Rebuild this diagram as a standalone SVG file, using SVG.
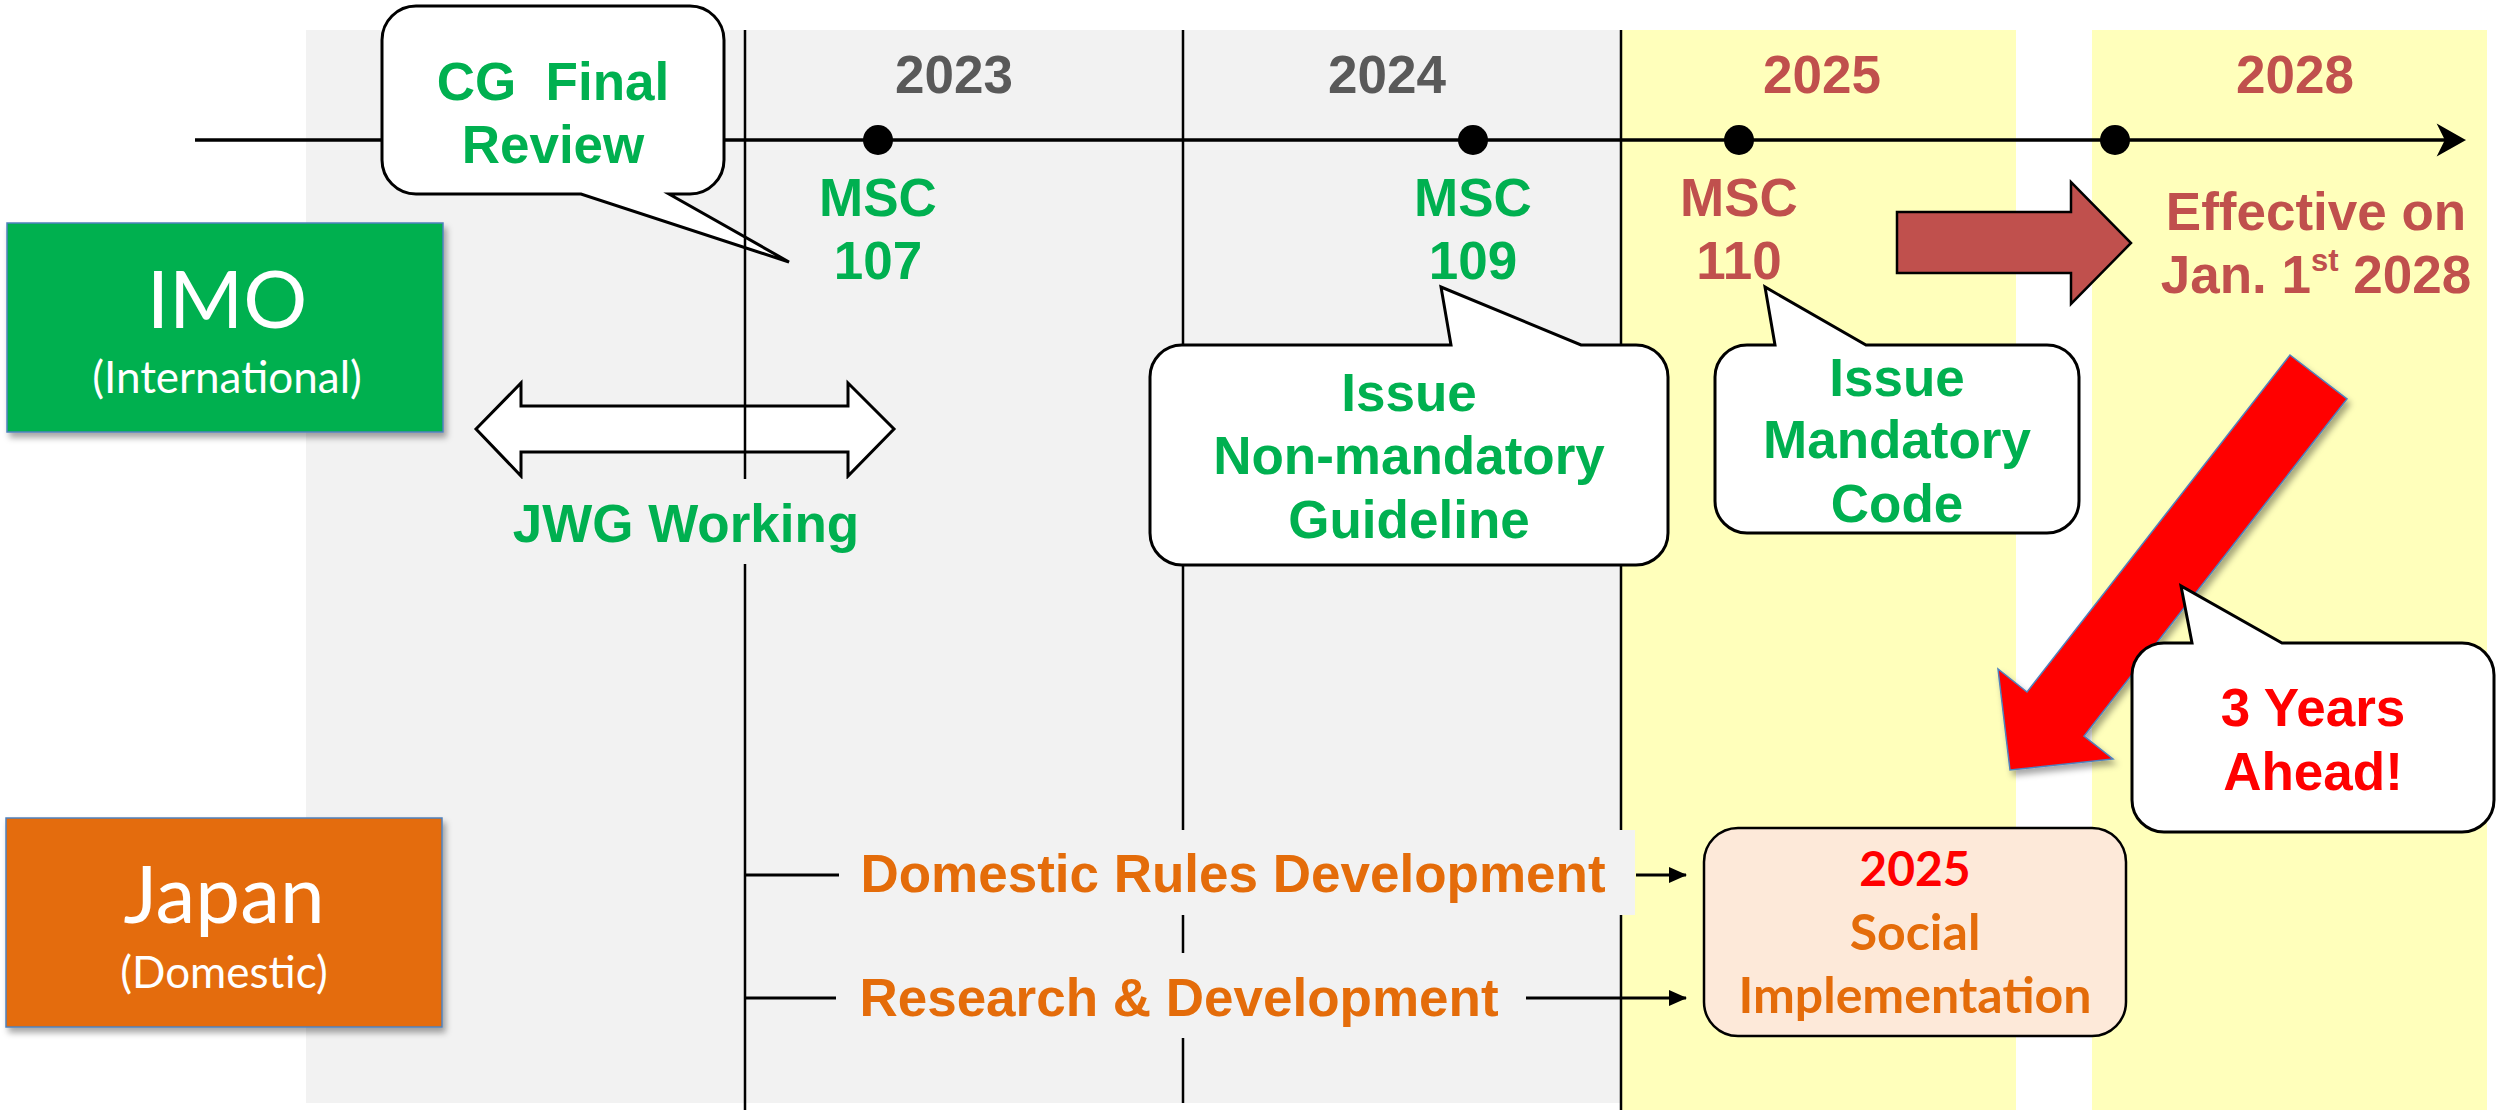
<svg xmlns="http://www.w3.org/2000/svg" width="2496" height="1110" viewBox="0 0 2496 1110">
<defs>
<style>
.b{font-family:"Liberation Sans",Arial,sans-serif;font-weight:bold;font-size:53px;text-anchor:middle}
.g{fill:#00B050}
.br{fill:#C0504D}
.gy{fill:#595959}
.or{fill:#E46C0A}
.rd{fill:#FF0000}
.cal{font-family:Lato,"Open Sans",sans-serif;text-anchor:middle;fill:#FFFFFF}
.vl{stroke:#000;stroke-width:2.5;fill:none}
.callout{fill:#FFFFFF;stroke:#000;stroke-width:3;stroke-linejoin:miter}
.bg{fill:#F2F2F2}
.yl{fill:#FFFFBB}
</style>
<filter id="sh" x="-10%" y="-10%" width="130%" height="130%">
<feDropShadow dx="3" dy="5" stdDeviation="3" flood-color="#000" flood-opacity="0.35"/>
</filter>
<marker id="ah2" markerWidth="18" markerHeight="16" refX="17" refY="8" orient="auto" markerUnits="userSpaceOnUse" viewBox="0 0 18 16">
<path d="M0,0 L18,8 L0,16 Z" fill="#000"/>
</marker>
</defs>

<g id="background">
<rect class="bg" x="306" y="30" width="1314" height="1073"/>
<rect class="yl" x="1620" y="30" width="396" height="1080"/>
<rect class="yl" x="2092" y="30" width="395" height="1080"/>
</g>

<g id="timeline">
<line x1="195" y1="140" x2="2450" y2="140" stroke="#000" stroke-width="3.5"/>
<path d="M2464,140 L2439,126 L2446,140 L2439,154 Z" fill="#000" stroke="#000" stroke-width="2"/>
<circle cx="878" cy="140" r="15" fill="#000"/>
<circle cx="1473" cy="140" r="15" fill="#000"/>
<circle cx="1739" cy="140" r="15" fill="#000"/>
<circle cx="2115" cy="140" r="15" fill="#000"/>
</g>

<g id="years">
<text class="b gy" x="954" y="93">2023</text>
<text class="b gy" x="1387" y="93">2024</text>
<text class="b br" x="1822" y="93">2025</text>
<text class="b br" x="2295" y="93">2028</text>
</g>

<g id="cg-review">
<path class="callout" d="M416,6 H690 A34,34 0 0 1 724,40 V160 A34,34 0 0 1 690,194 H669 L789,262 L581,194 H416 A34,34 0 0 1 382,160 V40 A34,34 0 0 1 416,6 Z"/>
<text class="b g" x="553" y="100" xml:space="preserve">CG  Final</text>
<text class="b g" x="553" y="163">Review</text>
</g>

<g id="jwg">
<polygon points="476,429 521,383 521,406 848,406 848,383 894,429 848,476 848,452 521,452 521,476" fill="#FFFFFF" stroke="#000" stroke-width="3"/>
<rect class="bg" x="500" y="479" width="370" height="85"/>
<text class="b g" x="686" y="542">JWG Working</text>
</g>

<g id="connectors">
<line class="vl" x1="745" y1="30" x2="745" y2="479"/>
<line class="vl" x1="745" y1="564" x2="745" y2="1110"/>
<line class="vl" x1="1183" y1="30" x2="1183" y2="1103"/>
<line class="vl" x1="1621" y1="30" x2="1621" y2="1110"/>
<line x1="745" y1="875" x2="839" y2="875" stroke="#000" stroke-width="3"/>
<line x1="745" y1="998" x2="836" y2="998" stroke="#000" stroke-width="3"/>
<line x1="1636" y1="875" x2="1686" y2="875" stroke="#000" stroke-width="3" marker-end="url(#ah2)"/>
<line x1="1526" y1="998" x2="1686" y2="998" stroke="#000" stroke-width="3" marker-end="url(#ah2)"/>
<path d="M1897,212 H2071 V182 L2131,243 L2071,304 V273 H1897 Z" fill="#C0504D" stroke="#000" stroke-width="2.5"/>
<path d="M2290,355 L2347,399 L2084,736 L2113,759 L2010,770 L1998,669 L2027,692 Z" fill="#FF0000" stroke="#4F81BD" stroke-width="1.5" filter="url(#sh)"/>
</g>

<g id="msc107">
<text class="b g" x="878" y="216">MSC</text>
<text class="b g" x="878" y="279">107</text>
</g>
<g id="msc109">
<text class="b g" x="1473" y="216">MSC</text>
<text class="b g" x="1473" y="279">109</text>
</g>
<g id="msc110">
<text class="b br" x="1739" y="216">MSC</text>
<text class="b br" x="1739" y="279">110</text>
</g>

<g id="effective">
<text class="b br" x="2316" y="230">Effective on</text>
<text class="b br" x="2316" y="293">Jan. 1<tspan font-size="31" dy="-22">st</tspan><tspan dy="22"> 2028</tspan></text>
</g>

<g id="non-mandatory">
<path class="callout" d="M1182,345 H1451 L1441,287 L1581,345 H1636 A32,32 0 0 1 1668,377 V533 A32,32 0 0 1 1636,565 H1182 A32,32 0 0 1 1150,533 V377 A32,32 0 0 1 1182,345 Z"/>
<text class="b g" x="1409" y="411">Issue</text>
<text class="b g" x="1409" y="474">Non-mandatory</text>
<text class="b g" x="1409" y="538">Guideline</text>
</g>

<g id="mandatory">
<path class="callout" d="M1747,345 H1775 L1765,287 L1866,345 H2047 A32,32 0 0 1 2079,377 V501 A32,32 0 0 1 2047,533 H1747 A32,32 0 0 1 1715,501 V377 A32,32 0 0 1 1747,345 Z"/>
<text class="b g" x="1897" y="396">Issue</text>
<text class="b g" x="1897" y="458">Mandatory</text>
<text class="b g" x="1897" y="522">Code</text>
</g>

<g id="three-years">
<path class="callout" d="M2164,643 H2192 L2181,586 L2282,643 H2462 A32,32 0 0 1 2494,675 V800 A32,32 0 0 1 2462,832 H2164 A32,32 0 0 1 2132,800 V675 A32,32 0 0 1 2164,643 Z"/>
<text class="b rd" x="2313" y="726">3 Years</text>
<text class="b rd" x="2313" y="790">Ahead!</text>
</g>

<g id="imo">
<rect x="7" y="223" width="436" height="209" fill="#00B050" stroke="#4F81BD" stroke-width="1.5" filter="url(#sh)"/>
<text class="cal" x="227" y="328" font-size="80">IMO</text>
<text class="cal" x="227" y="393" font-size="44">(International)</text>
</g>

<g id="japan">
<rect x="6" y="818" width="436" height="209" fill="#E46C0A" stroke="#4F81BD" stroke-width="1.5" filter="url(#sh)"/>
<text class="cal" x="224" y="923" font-size="80">Japan</text>
<text class="cal" x="224" y="988" font-size="44">(Domestic)</text>
</g>

<g id="domestic-rules">
<rect class="bg" x="845" y="830" width="790" height="85"/>
<text class="b or" x="1233" y="892">Domestic Rules Development</text>
</g>

<g id="research">
<rect class="bg" x="845" y="953" width="675" height="85"/>
<text class="b or" x="1179" y="1016">Research &amp; Development</text>
</g>

<g id="social">
<rect x="1704" y="828" width="422" height="208" rx="34" ry="34" fill="#FDE9D9" stroke="#000" stroke-width="2.5"/>
<text x="1915" y="886" font-family="Lato,'Open Sans',sans-serif" font-weight="bold" font-size="48" text-anchor="middle" fill="#FF0000">2025</text>
<text x="1915" y="950" font-family="Lato,'Open Sans',sans-serif" font-weight="bold" font-size="50" text-anchor="middle" fill="#E46C0A">Social</text>
<text x="1915" y="1013" font-family="Lato,'Open Sans',sans-serif" font-weight="bold" font-size="50" text-anchor="middle" fill="#E46C0A">Implementation</text>
</g>
</svg>
